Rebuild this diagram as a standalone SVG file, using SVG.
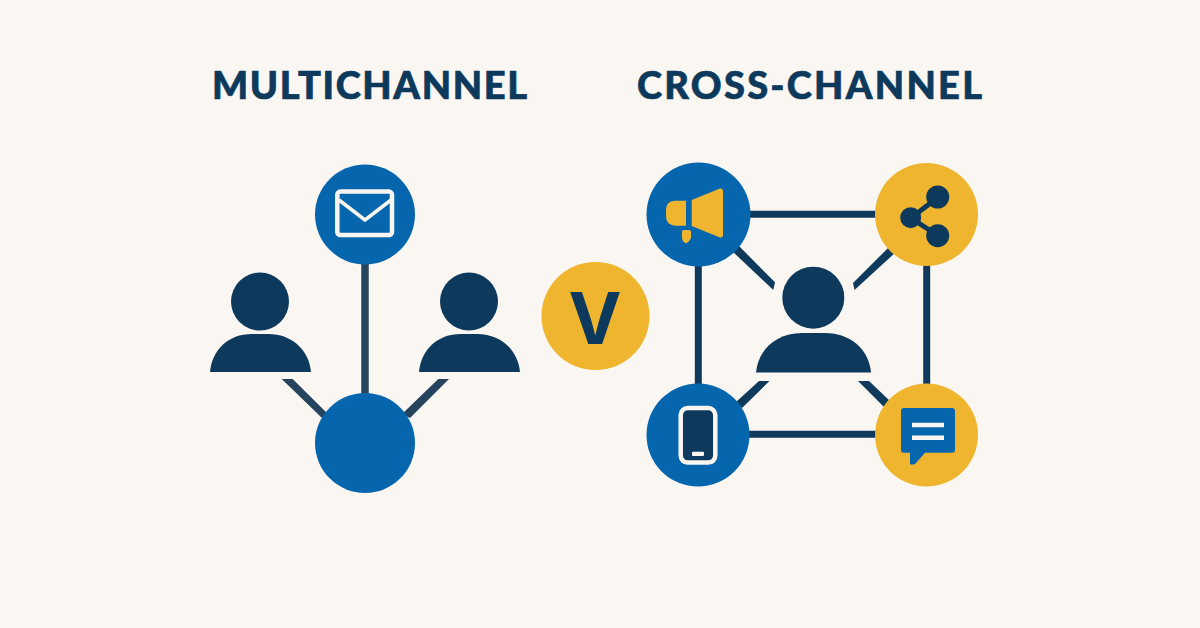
<svg xmlns="http://www.w3.org/2000/svg" width="1200" height="628" viewBox="0 0 1200 628">
<style>
.t{font-family:"Lato","Liberation Sans",sans-serif;font-weight:900;font-size:38px;fill:#0d3a5c;stroke:#0d3a5c;stroke-width:0.700}
.l{stroke:#0f3a5b;stroke-width:7;fill:none}
.d{fill:#27445f}
.e{fill:#0f3a5b}
.n{fill:#0d3a5c}
.b{fill:#0666ad}
.y{fill:#efb52f}
</style>
<rect width="1200" height="628" fill="#faf7f3"/>
<text class="t" x="212" y="99" textLength="315" lengthAdjust="spacing">MULTICHANNEL</text>
<text class="t" x="637" y="99" textLength="345" lengthAdjust="spacing">CROSS-CHANNEL</text>
<g id="connectors">
<path d="M365 260V400" stroke="#27445f" stroke-width="7.500" fill="none"/>
<path class="d" d="M281.700 379H292.700L328 414L322 418ZM438.300 379H449L410 418L402 414Z"/>
<path class="l" d="M745 214.300H880M745 434.300H880M698.300 260V390M926.700 260V390"/>
<path class="e" d="M732 251L738 245L775 282.300L773.300 290ZM890 246L853 283L854.500 290L896 252ZM759 381H769.500L742 408L736 402ZM858 381H869L890 401L884 407Z"/>
</g>
<g id="email"><circle class="b" cx="365" cy="214.500" r="50"/><rect x="337.300" y="191.600" width="54.700" height="43.400" rx="3" fill="none" stroke="#f9f6f2" stroke-width="4.500"/><path d="M339 200L365 220L391 200" fill="none" stroke="#f9f6f2" stroke-width="3.500"/></g>
<g id="hub"><circle class="b" cx="365" cy="443" r="50"/></g>
<g id="person-left"><circle class="n" cx="260" cy="301.500" r="29"/><path class="n" d="M210 372C212 350 228 334 252 334H268C292 334 309 350 311 372Z"/></g>
<g id="person-right"><circle class="n" cx="469" cy="301.500" r="29"/><path class="n" d="M419 372C421 350 437 334 461 334H477C501 334 518 350 520 372Z"/></g>
<g id="person-center"><circle class="n" cx="813.300" cy="297.700" r="31"/><path class="n" d="M756 372.500C758 350 776 333 802 333H825C851 333 869 350 871 372.500Z"/></g>
<g id="versus"><circle class="y" cx="595.500" cy="316" r="54"/><text x="595" y="344" text-anchor="middle" font-family="Inter,'Liberation Sans',sans-serif" font-weight="700" font-size="71" fill="#0d3a5c">V</text></g>
<g id="megaphone"><circle class="b" cx="698.500" cy="214.500" r="52"/><path class="y" d="M720 188.500L691.700 200V226L720 237.500Q723 238 723 235V191Q723 188 720 188.500ZM686 200.700H675Q666 201 666 210V216Q666 225 675 225.700H686ZM684 230H689Q691 230 691 232V238Q688 244 685 243Q682 241 682 238V232Q682 230 684 230Z"/></g>
<g id="share"><circle class="y" cx="926.500" cy="214.500" r="51.500"/><path d="M937 198L911 218L937 235" fill="none" stroke="#0d3a5c" stroke-width="5"/><circle class="n" cx="937.700" cy="197" r="11.500"/><circle class="n" cx="910.700" cy="217.700" r="10.500"/><circle class="n" cx="937.700" cy="235.700" r="11.500"/></g>
<g id="phone"><circle class="b" cx="698" cy="435" r="51.500"/><rect x="680.700" y="408" width="34.600" height="54.600" rx="7" fill="#0d3a5c" stroke="#f9f6f2" stroke-width="4.500"/><rect x="692" y="451.700" width="12" height="4.300" rx="1" fill="#f9f6f2"/></g>
<g id="chat"><circle class="y" cx="926.500" cy="435" r="51.500"/><path class="b" d="M904 408H952Q955 408 955 411V450Q955 452.700 952 452.700H925L915 464Q910 466 910 463V452.700H904Q901 452.700 901 450V411Q901 408 904 408Z"/><path d="M912 425H944M912 437.700H944" stroke="#f9f6f2" stroke-width="4.500"/></g>
</svg>
